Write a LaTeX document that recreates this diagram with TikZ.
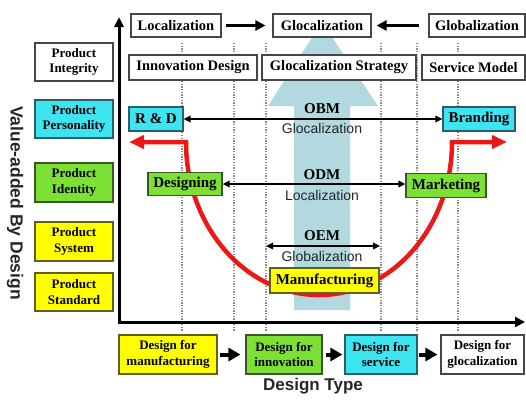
\documentclass[tikz,border=0pt]{standalone}
\usepackage{fontspec}
\setmainfont{Liberation Serif}
\setsansfont{Liberation Sans}
\usetikzlibrary{arrows.meta}
\definecolor{cyanF}{RGB}{62,228,240}
\definecolor{cyanB}{RGB}{40,95,105}
\definecolor{greenF}{RGB}{125,224,52}
\definecolor{greenB}{RGB}{60,85,40}
\definecolor{yellowF}{RGB}{255,255,0}
\definecolor{yellowB}{RGB}{95,95,30}
\definecolor{grayB}{RGB}{70,70,70}
\definecolor{bigblue}{RGB}{178,216,224}
\definecolor{uRed}{RGB}{236,24,24}
\definecolor{dotgray}{RGB}{140,140,140}
\begin{document}
\begin{tikzpicture}[x=1pt,y=-1pt,
  boxbase/.style={rectangle, inner sep=0pt, line width=1.2pt, align=center},
  whitebox/.style={boxbase, draw=grayB, fill=white},
  cyanbox/.style={boxbase, draw=cyanB, fill=cyanF},
  greenbox/.style={boxbase, draw=greenB, fill=greenF},
  yellowbox/.style={boxbase, draw=yellowB, fill=yellowF},
  topfont/.style={font=\fontsize{14.5}{16}\selectfont\bfseries},
  smallfont/.style={font=\fontsize{13}{15.5}\selectfont\bfseries},
  midfont/.style={font=\fontsize{15}{17}\selectfont\bfseries},
  sanslbl/.style={font=\fontsize{14}{16}\selectfont\sffamily, text=black!85, inner sep=0pt},
  seriflbl/.style={font=\fontsize{15}{17}\selectfont\bfseries, inner sep=0pt},
  dotline/.style={draw=dotgray, line width=1.3pt, dash pattern=on 1.3pt off 1.4pt},
  thinarrow/.style={line width=1.8pt, {Triangle[length=7pt,width=6.5pt]}-{Triangle[length=7pt,width=6.5pt]}},
  toparrow/.style={line width=2.6pt, -{Triangle[length=10pt,width=10pt]}},
  botarrow/.style={line width=4pt, -{Triangle[length=12pt,width=13pt]}},
  axisline/.style={line width=3pt, line join=miter, {Triangle[length=10pt,width=9pt]}-{Triangle[length=10pt,width=10pt]}},
  redline/.style={draw=uRed, line width=4.5pt, line join=miter, {Triangle[length=15pt,width=13pt]}-{Triangle[length=15pt,width=13pt]}}
]
\useasboundingbox (0,0) rectangle (526,400);

% dotted verticals
\foreach \xx in {182,234,266,381,417,458} {
  \draw[dotline] (\xx,43) -- (\xx,331);
}

% big light-blue arrow
\fill[bigblue] (294,310) -- (294,106) -- (268,106) -- (322,22) -- (378,106) -- (350,106) -- (350,310) -- cycle;

% axes
\coordinate (ytop) at (119,17);
\coordinate (origin) at (119,322);
\coordinate (xend) at (525,322);
\draw[axisline] (ytop) -- (origin) -- (xend);

% red U curve with arrows
\coordinate (lefttip) at (129,142);
\coordinate (ucornerL) at (186,142);
\coordinate (ubottom) at (319,295);
\coordinate (ucornerR) at (452,142);
\coordinate (righttip) at (507,142);
\draw[redline] (lefttip) -- (ucornerL) .. controls (186,226.5) and (245.5,295) .. (ubottom)
   .. controls (392.5,295) and (452,226.5) .. (ucornerR) -- (righttip);

% top row
\node[whitebox, topfont, minimum width=90pt, minimum height=23pt] (loc) at (176,25.5) {Localization};
\node[whitebox, topfont, minimum width=98pt, minimum height=23pt] (gloc) at (322,25.5) {Glocalization};
\node[whitebox, topfont, minimum width=96pt, minimum height=23pt] (glob) at (477,25.5) {Globalization};
\draw[toparrow, shorten <=4pt, shorten >=7pt] (loc.east) -- (gloc.west);
\draw[toparrow, shorten <=9pt, shorten >=5pt] (glob.west) -- (gloc.east);

% second row
\node[whitebox, topfont, minimum width=128pt, minimum height=25pt] (innov) at (193,67.5) {Innovation Design};
\node[whitebox, topfont, minimum width=154pt, minimum height=25pt] (gstrat) at (339,67.5) {Glocalization Strategy};
\node[whitebox, topfont, minimum width=103pt, minimum height=25pt] (service) at (473.5,67.5) {Service Model};

% left column
\node[whitebox, smallfont, minimum width=78pt, minimum height=38pt] (integ) at (74,62) {Product\\Integrity};
\node[cyanbox, smallfont, minimum width=78pt, minimum height=38pt] (person) at (74,119) {Product\\Personality};
\node[greenbox, smallfont, minimum width=78pt, minimum height=39pt] (ident) at (74,182.5) {Product\\Identity};
\node[yellowbox, smallfont, minimum width=78pt, minimum height=39pt] (system) at (74,241.5) {Product\\System};
\node[yellowbox, smallfont, minimum width=78pt, minimum height=38pt] (standard) at (74,292) {Product\\Standard};

\node[rotate=-90, font=\fontsize{17.5}{20}\selectfont\sffamily\bfseries, text=black!85] (vlabel) at (15,203) {Value-added By Design};

% inner boxes
\node[cyanbox, midfont, minimum width=54pt, minimum height=24pt] (rd) at (156,119) {R \& D};
\node[cyanbox, midfont, minimum width=72pt, minimum height=24pt] (brand) at (479,119) {Branding};
\node[greenbox, midfont, minimum width=74pt, minimum height=23pt] (design) at (185,184) {Designing};
\node[greenbox, midfont, minimum width=80pt, minimum height=24pt] (market) at (446,185.5) {Marketing};
\node[yellowbox, midfont, minimum width=109pt, minimum height=25pt] (manuf) at (324.5,280.5) {Manufacturing};

% OBM / ODM / OEM
\draw[thinarrow] (rd.east) -- (brand.west);
\node[seriflbl] (obm) at (322,109) {OBM};
\node[sanslbl] (obmsub) at (322,128.5) {Glocalization};

\draw[thinarrow] (design.east) -- (market.west |- design.east);
\node[seriflbl] (odm) at (322,175) {ODM};
\node[sanslbl] (odmsub) at (322,195) {Localization};

\coordinate (oemL) at (266,246);
\coordinate (oemR) at (380,246);
\draw[thinarrow] (oemL) -- (oemR);
\node[seriflbl] (oem) at (322,236) {OEM};
\node[sanslbl] (oemsub) at (322,256) {Globalization};

% bottom row
\node[yellowbox, smallfont, minimum width=98pt, minimum height=39pt] (dfm) at (168,354.5) {Design for\\manufacturing};
\node[greenbox, smallfont, minimum width=76pt, minimum height=39pt] (dfi) at (284,354.5) {Design for\\innovation};
\node[cyanbox, smallfont, minimum width=72pt, minimum height=39pt] (dfs) at (381,354.5) {Design for\\service};
\node[whitebox, smallfont, minimum width=83pt, minimum height=39pt] (dfg) at (482.5,354.5) {Design for\\glocalization};
\draw[botarrow, shorten <=2pt, shorten >=5pt] (dfm.east) -- (dfi.west);
\draw[botarrow, shorten <=3pt, shorten >=2pt] (dfi.east) -- (dfs.west);
\draw[botarrow, shorten <=1pt, shorten >=3pt] (dfs.east) -- (dfg.west);

\node[font=\fontsize{17}{20}\selectfont\sffamily\bfseries, text=black!85] (dtype) at (313,386) {Design Type};
\end{tikzpicture}
\end{document}
